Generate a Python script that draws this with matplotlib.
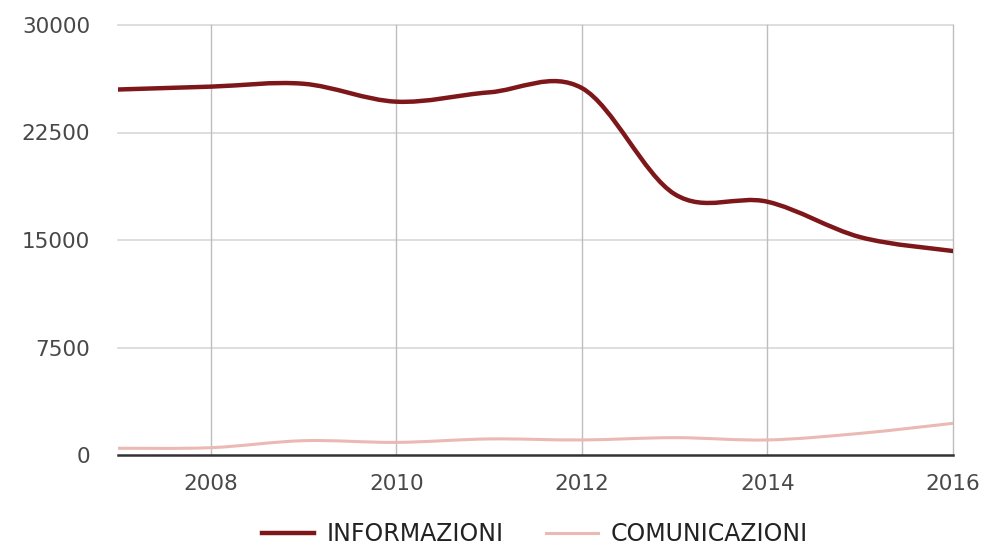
import matplotlib
matplotlib.use('Agg')
import matplotlib.pyplot as plt
from matplotlib.path import Path
from matplotlib.patches import PathPatch
from matplotlib.lines import Line2D

years = [2007, 2008, 2009, 2010, 2011, 2012, 2013, 2014, 2015, 2016]
informazioni = [25500, 25700, 25900, 24650, 25300, 25600, 18200, 17670, 15200, 14230]
comunicazioni = [470, 510, 1000, 880, 1120, 1050, 1210, 1050, 1510, 2210]

x_ticks = [2008, 2010, 2012, 2014, 2016]
y_ticks = [0, 7500, 15000, 22500, 30000]

col_info = '#7e1719'
col_com = '#ebb9b4'


def smooth_path(xs, ys):
    # catmull-rom style bezier through the points, like the "function" curve type
    n = len(xs)
    verts = [(xs[0], ys[0])]
    codes = [Path.MOVETO]
    for i in range(n - 1):
        i0 = max(i - 1, 0)
        i3 = min(i + 2, n - 1)
        c1 = (xs[i] + (xs[i + 1] - xs[i0]) / 6, ys[i] + (ys[i + 1] - ys[i0]) / 6)
        c2 = (xs[i + 1] - (xs[i3] - xs[i]) / 6, ys[i + 1] - (ys[i3] - ys[i]) / 6)
        verts += [c1, c2, (xs[i + 1], ys[i + 1])]
        codes += [Path.CURVE4] * 3
    return Path(verts, codes)


plt.rcParams['font.family'] = ['DejaVu Sans']

fig = plt.figure(figsize=(9.88, 5.5), dpi=100)
ax = fig.add_axes([118 / 988, 95 / 550, 835 / 988, 430 / 550])

ax.set_xlim(2007, 2016)
ax.set_ylim(0, 30000)

for yt in y_ticks[1:]:
    ax.axhline(yt, color='#d8d8d8', lw=1.2, zorder=1, clip_on=False)
for xt in x_ticks:
    ax.axvline(xt, color='#bdbdbd', lw=1.0, zorder=1, clip_on=False)
ax.axhline(0, color='#333333', lw=1.8, zorder=4, clip_on=False)

ax.add_patch(PathPatch(smooth_path(years, comunicazioni), fill=False,
                       edgecolor=col_com, lw=2.2, zorder=3, capstyle='round'))
ax.add_patch(PathPatch(smooth_path(years, informazioni), fill=False,
                       edgecolor=col_info, lw=3.2, zorder=3, capstyle='round'))

for s in ax.spines.values():
    s.set_visible(False)

ax.set_xticks(x_ticks)
ax.set_xticklabels([str(x) for x in x_ticks])
ax.set_yticks(y_ticks)
ax.set_yticklabels([str(y) for y in y_ticks])
ax.tick_params(length=0, labelsize=15.5, labelcolor='#484848')
ax.tick_params(axis='x', pad=14)
ax.tick_params(axis='y', pad=20)

handles = [Line2D([], [], color=col_info, lw=3.2),
           Line2D([], [], color=col_com, lw=2.2)]
fig.legend(handles, ['INFORMAZIONI', 'COMUNICAZIONI'], loc='center',
           bbox_to_anchor=(535 / 988, 16 / 550), ncol=2, frameon=False,
           fontsize=17, handlelength=2.2, columnspacing=1.8,
           handletextpad=0.55, labelcolor='#222222', borderpad=0.2)

fig.savefig('out.png', dpi=100)
